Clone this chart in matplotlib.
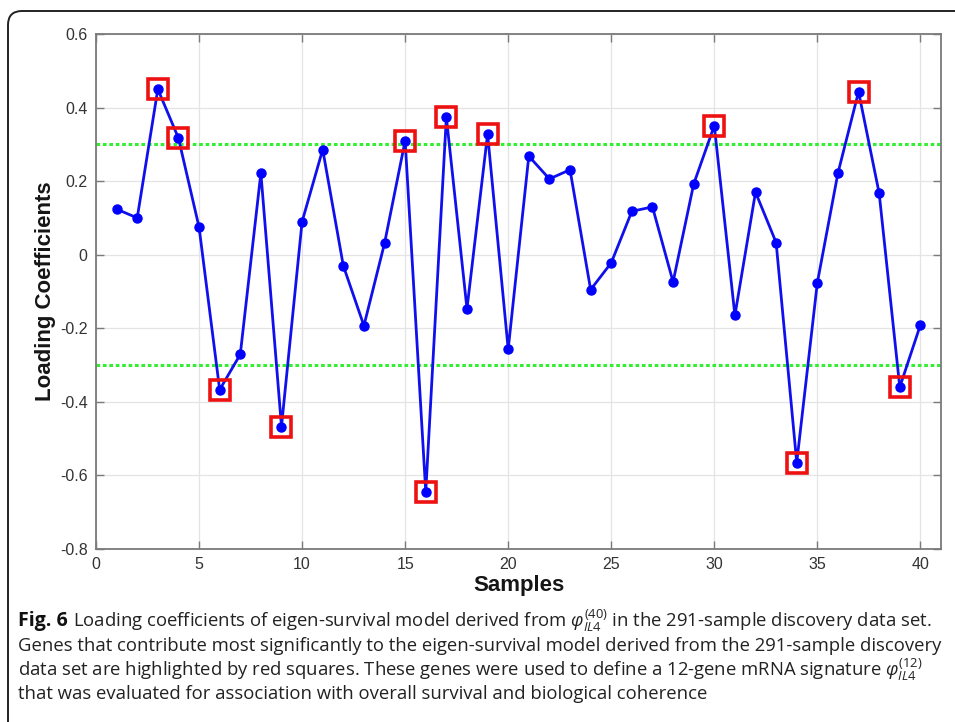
import matplotlib
matplotlib.use("Agg")
import matplotlib.pyplot as plt
from matplotlib.patches import FancyBboxPatch
from matplotlib.transforms import IdentityTransform

# Loading coefficient for each of the 40 samples
samples = list(range(1, 41))
loadings = [0.124, 0.100, 0.450, 0.317, 0.075, -0.367, -0.271, 0.222, -0.467, 0.090,
            0.286, -0.030, -0.193, 0.031, 0.310, -0.645, 0.374, -0.147, 0.328, -0.257,
            0.268, 0.206, 0.231, -0.095, -0.022, 0.118, 0.130, -0.074, 0.192, 0.351,
            -0.165, 0.170, 0.033, -0.565, -0.076, 0.222, 0.443, 0.167, -0.360, -0.191]
# Samples whose genes make up the 12-gene signature
highlighted = [3, 4, 6, 9, 15, 16, 17, 19, 30, 34, 37, 39]
threshold = 0.3

xticks = [0, 5, 10, 15, 20, 25, 30, 35, 40]
yticks = [-0.8, -0.6, -0.4, -0.2, 0, 0.2, 0.4, 0.6]
ytick_labels = ["-0.8", "-0.6", "-0.4", "-0.2", "0", "0.2", "0.4", "0.6"]

caption_lines = [
    r"Loading coefficients of eigen-survival model derived from $\varphi_{IL4}^{(40)}$"
    r" in the 291-sample discovery data set.",
    "Genes that contribute most significantly to the eigen-survival model derived "
    "from the 291-sample discovery",
    "data set are highlighted by red squares. These genes were used to define a "
    r"12-gene mRNA signature $\varphi_{IL4}^{(12)}$",
    "that was evaluated for association with overall survival and biological coherence",
]

plt.rcParams["font.family"] = ["Liberation Sans", "DejaVu Sans"]
plt.rcParams["mathtext.fontset"] = "custom"
plt.rcParams["mathtext.it"] = "Open Sans:italic"
plt.rcParams["mathtext.rm"] = "Open Sans"

W, H = 955, 722
fig = plt.figure(figsize=(W / 100, H / 100), dpi=100)
fig.patch.set_facecolor("white")

# Rounded frame around the figure panel
frame = FancyBboxPatch((8, -40), 1000, 711 + 40, boxstyle="round,pad=0,rounding_size=14",
                       transform=IdentityTransform(), facecolor="none",
                       edgecolor="#222222", linewidth=1.4)
fig.patches.append(frame)

left, right, top, bottom = 96, 941, 34, 549
ax = fig.add_axes([left / W, 1 - bottom / H, (right - left) / W, (bottom - top) / H])

ax.set_xlim(0, 41)
ax.set_ylim(-0.8, 0.6)
ax.set_xticks(xticks)
ax.set_yticks(yticks)
ax.set_yticklabels(ytick_labels)
ax.grid(True, color="#e4e4e4", linewidth=0.9)
ax.set_axisbelow(True)

for s in ax.spines.values():
    s.set_color("#7a7a7a")
    s.set_linewidth(1.3)
ax.tick_params(direction="in", length=6, width=1.0, color="#7a7a7a",
               top=True, right=True, labelsize=11.5, labelcolor="#333333", pad=6)

for y in (threshold, -threshold):
    ax.axhline(y, color="#33ee33", linewidth=2.2, linestyle=(0, (1.2, 0.9)), zorder=2)

ax.plot(samples, loadings, color="#1010ee", linewidth=2.0, marker="o",
        markersize=6.5, markerfacecolor="#0000ff", markeredgecolor="#0000ff", zorder=3)

hy = [loadings[s - 1] for s in highlighted]
ax.plot(highlighted, hy, linestyle="none", marker="s", markersize=15,
        markerfacecolor="none", markeredgecolor="#ee1111", markeredgewidth=2.6, zorder=4)

ax.set_xlabel("Samples", fontsize=16, fontweight="bold", color="#151515")
ax.xaxis.label.set_va("center")
ax.xaxis.set_label_coords(0.5, (bottom - 585) / (bottom - top))
ax.set_ylabel("Loading Coefficients", fontsize=16, fontweight="bold", color="#151515")
ax.yaxis.label.set_va("center")
ax.yaxis.set_label_coords((45 - left) / (right - left), 0.5)

# Caption, sized so its widest line spans the panel
cap_family = ["Open Sans", "DejaVu Sans"]
x0 = 18
line_y = [621, 646, 670, 694]
probe = fig.text(0, 0, caption_lines[1], fontsize=12, family=cap_family)
fig.canvas.draw()
fs = 12 * (938 - x0) / probe.get_window_extent().width
probe.remove()

t = fig.text(x0 / W, 1 - line_y[0] / H, "Fig. 6", fontsize=fs * 1.06, fontweight="bold",
             family=cap_family, va="center", ha="left", color="#111111")
fig.canvas.draw()
bb = t.get_window_extent()
for i, line in enumerate(caption_lines):
    xs = (bb.x1 + 5) / W if i == 0 else x0 / W
    fig.text(xs, 1 - line_y[i] / H, line, fontsize=fs, family=cap_family,
             va="center", ha="left", color="#222222")

fig.savefig("out.png", dpi=100)
